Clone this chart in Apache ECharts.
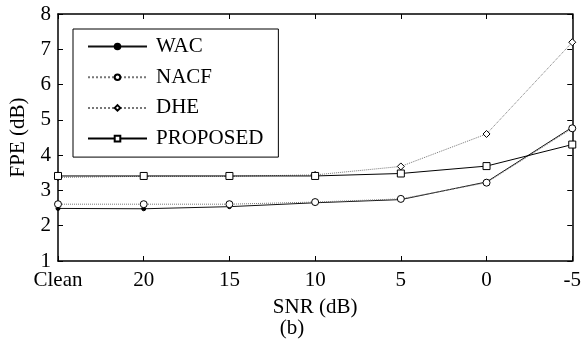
<!DOCTYPE html>
<html>
<head>
<meta charset="utf-8">
<script src="https://cdn.jsdelivr.net/npm/echarts@6/dist/echarts.min.js"></script>
<style>
  html, body { margin: 0; padding: 0; background: #fff; }
  #chart { width: 584px; height: 345px; }
</style>
</head>
<body>
<div id="chart"></div>
<script>
// SNR conditions along the x axis
const categories = ['Clean', '20', '15', '10', '5', '0', '-5'];

// FPE (dB) for each method
const wac      = [2.49, 2.48, 2.54, 2.65, 2.74, 3.24, 4.79];
const nacf     = [2.61, 2.61, 2.61, 2.67, 2.76, 3.22, 4.76];
const dhe      = [3.37, 3.40, 3.40, 3.44, 3.68, 4.60, 7.20];
const proposed = [3.41, 3.41, 3.41, 3.41, 3.48, 3.69, 4.30];

const yTicks = [1, 2, 3, 4, 5, 6, 7, 8];

const font = '"Liberation Serif", "Times New Roman", serif';
const fs = 21;
const chart = echarts.init(document.getElementById('chart'));

function series(name, data, symbol, size, color, lineType, filled) {
  return {
    name, type: 'line', data, symbol, symbolSize: size,
    xAxisIndex: 0, yAxisIndex: 0,
    lineStyle: { color, width: 1, type: lineType },
    itemStyle: { color: filled ? '#000' : '#fff', borderColor: '#000', borderWidth: 1 },
    emphasis: { disabled: true },
    animation: false
  };
}

chart.setOption({
  backgroundColor: '#fff',
  animation: false,
  grid: { left: 57, right: 7, top: 14, bottom: 84 },
  legend: {
    orient: 'vertical',
    left: 73, top: 29,
    padding: [7, 15, 8, 14],
    borderColor: '#000', borderWidth: 1,
    backgroundColor: '#fff',
    itemWidth: 59, itemHeight: 7, itemGap: 9.7,
    textStyle: { fontFamily: font, fontSize: fs, lineHeight: 20, color: '#000', padding: [0, 0, 0, 4] },
    data: ['WAC', 'NACF', 'DHE', 'PROPOSED']
  },
  xAxis: [{
    type: 'category', data: categories, boundaryGap: false,
    axisLine: { lineStyle: { color: '#000', width: 1.5 } },
    axisTick: { inside: true, length: 5, alignWithLabel: true, lineStyle: { color: '#000' } },
    axisLabel: { fontFamily: font, fontSize: fs, color: '#000', margin: 9 },
    name: 'SNR (dB)', nameLocation: 'middle', nameGap: 36,
    nameTextStyle: { fontFamily: font, fontSize: fs, color: '#000' },
    splitLine: { show: false }
  }, {
    type: 'category', data: categories, boundaryGap: false, position: 'top',
    axisLine: { lineStyle: { color: '#000', width: 1.5 } },
    axisTick: { inside: true, length: 5, lineStyle: { color: '#000' } },
    axisLabel: { show: false }
  }],
  yAxis: [{
    type: 'value', min: yTicks[0], max: yTicks[yTicks.length - 1], interval: 1,
    axisLine: { show: true, lineStyle: { color: '#000', width: 1.5 } },
    axisTick: { show: true, inside: true, length: 5, lineStyle: { color: '#000' } },
    axisLabel: { fontFamily: font, fontSize: fs, color: '#000', margin: 7 },
    name: 'FPE (dB)', nameLocation: 'middle', nameGap: 29, nameRotate: 90,
    nameTextStyle: { fontFamily: font, fontSize: fs, color: '#000' },
    splitLine: { show: false }
  }, {
    type: 'value', min: yTicks[0], max: yTicks[yTicks.length - 1], interval: 1, position: 'right',
    axisLine: { show: true, lineStyle: { color: '#000', width: 1.5 } },
    axisTick: { show: true, inside: true, length: 5, lineStyle: { color: '#000' } },
    axisLabel: { show: false },
    splitLine: { show: false }
  }],
  graphic: [{
    type: 'text', left: 'center', top: 318,
    style: { text: '(b)', font: fs + 'px ' + font, fill: '#000' }
  }],
  series: [
    series('WAC', wac, 'circle', 4, '#111', 'solid', true),
    series('NACF', nacf, 'circle', 7, '#777', 'dotted', false),
    series('DHE', dhe, 'diamond', 7, '#777', 'dotted', false),
    series('PROPOSED', proposed, 'rect', 7, '#000', 'solid', false)
  ]
});
</script>
</body>
</html>
